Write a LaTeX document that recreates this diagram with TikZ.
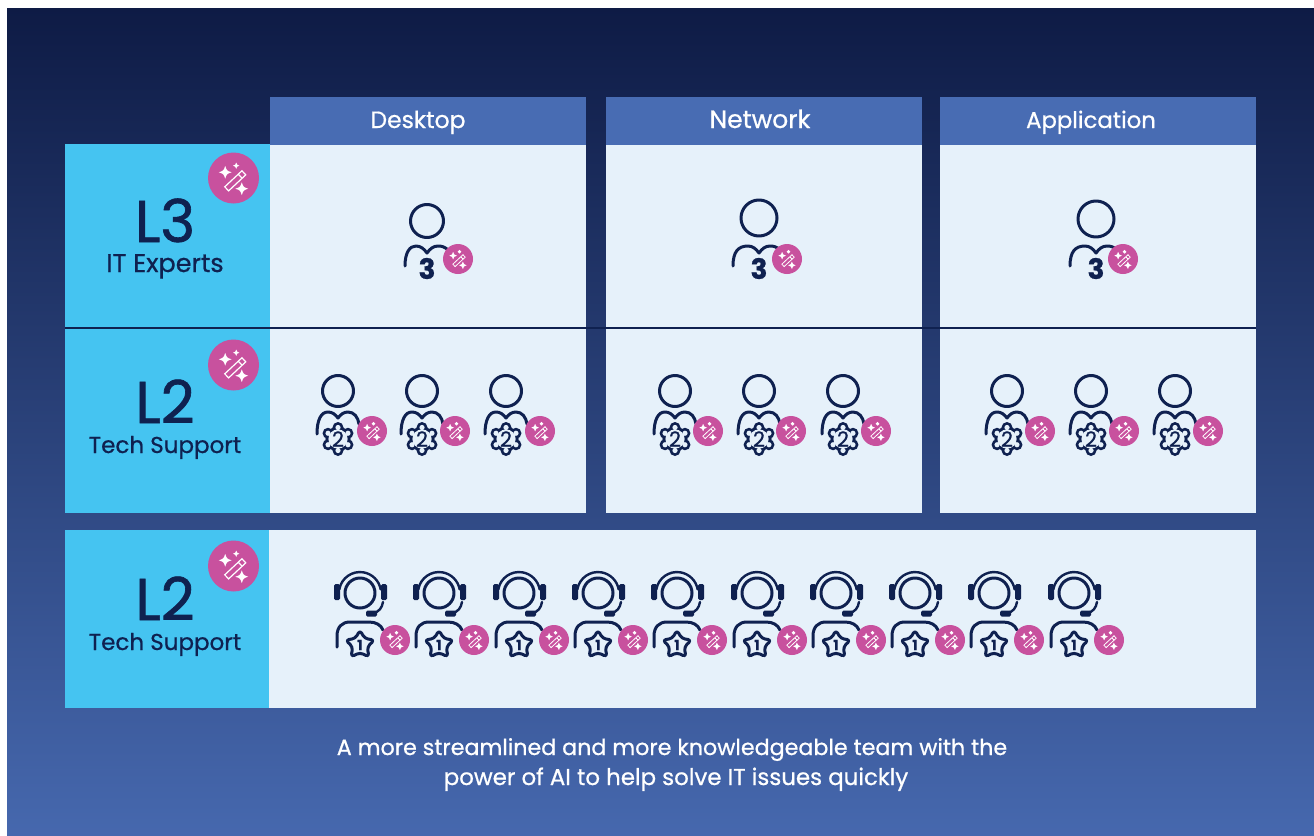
\documentclass[tikz,border=0pt]{standalone}
\usepackage{fontspec}
\setmainfont{Poppins}[FakeBold=0.7]
\newfontfamily\bigfont{Poppins}[FakeBold=1.1]
\definecolor{ink}{HTML}{0F2150}
\definecolor{head}{HTML}{486CB3}
\definecolor{cell}{HTML}{E6F1FA}
\definecolor{sky}{HTML}{45C4F1}
\definecolor{magenta}{HTML}{C8519E}
\definecolor{bgtop}{HTML}{0E1B45}
\definecolor{bgbot}{HTML}{4668AE}
\tikzset{
  header/.style={fill=head,draw=none},
  panel/.style={fill=cell,draw=none},
  side/.style={fill=sky,draw=none},
  icon/.style={draw=ink,line width=3pt,line cap=round,line join=round},
  headtxt/.style={text=white,font=\fontsize{#1}{26}\selectfont,anchor=base,inner sep=0},
  bigl/.style={text=ink,font=\bigfont\fontsize{59}{60}\selectfont,anchor=base,inner sep=0},
  subl/.style={text=ink,font=\fontsize{#1}{26}\selectfont,anchor=base,inner sep=0},
  digit/.style={text=ink,anchor=center,inner sep=0},
  foot/.style={text=white,font=\fontsize{#1}{25}\selectfont,anchor=base,inner sep=0},
}
\newcommand{\sparkle}[3]{\fill[white] (#1-#3,#2) .. controls (#1-0.25*#3,#2-0.25*#3) .. (#1,#2-#3) .. controls (#1+0.25*#3,#2-0.25*#3) .. (#1+#3,#2) .. controls (#1+0.25*#3,#2+0.25*#3) .. (#1,#2+#3) .. controls (#1-0.25*#3,#2+0.25*#3) .. cycle;}
% #1 x, #2 y, #3 radius, #4 wand line width
\newcommand{\magicbadge}[4]{%
  \begin{scope}[shift={(#1,#2)}]
    \fill[magenta] (0,0) circle (#3);
    \begin{scope}[scale=#3/25.5]
      \draw[white,line width=#4,rotate around={43:(1.8,2.8)}] (-10,0) rectangle (13.5,5.6);
      \draw[white,line width=#4,rotate around={43:(1.8,2.8)}] (8.5,0) -- (8.5,5.6);
      \sparkle{-8.3}{-5.7}{6.4}
      \sparkle{8.3}{10.7}{6.4}
      \sparkle{2.7}{-12.3}{3.2}
    \end{scope}
  \end{scope}}
% expert: head (#1,#2), head radius #3, badge x #4, shoulder half-width #5
\newcommand{\expert}[5]{%
  \draw[icon] (#1,#2) circle (#3);
  \draw[icon] (#1-#5,266) .. controls (#1-#5,252) and (#1-#5+5,246) .. (#1-11,246) .. controls (#1-6,246) and (#1-3,249) .. (#1,253) .. controls (#1+3,249) and (#1+6,246) .. (#1+11,246) .. controls (#1+15,246) and (#1+18,247) .. (#1+21,250);
  \node[digit,font=\fontsize{28}{30}\selectfont\bfseries] at (#1,268.5) {3};
  \magicbadge{#4}{259}{15}{0.8pt}}
% gear outline: six round lobes round a disc, centre (#1,#2)
\newcommand{\gear}[2]{%
  \fill[ink] (#1,#2) circle (12.6);
  \foreach \a in {30,90,...,330} {\fill[ink] (#1,#2) ++(\a:11.5) circle (5.5);}
  \fill[cell] (#1,#2) circle (9.6);
  \foreach \a in {30,90,...,330} {\fill[cell] (#1,#2) ++(\a:11.5) circle (2.6);}}
% tech: head x #1, badge x #2
\newcommand{\tech}[2]{%
  \draw[icon] (#1,391) circle (15.5);
  \draw[icon] (#1-21,434) .. controls (#1-21,420) and (#1-17,412) .. (#1-10,412) .. controls (#1-6,412) and (#1-3,414) .. (#1,418) .. controls (#1+3,414) and (#1+6,412) .. (#1+10,412) .. controls (#1+16,412) and (#1+20,417) .. (#1+21,424);
  \gear{#1}{439}
  \node[digit,font=\fontsize{21}{24}\selectfont] at (#1,439) {2};
  \magicbadge{#2}{431}{15}{0.8pt}}
% agent: headset centre x #1
\newcommand{\agent}[1]{%
  \draw[icon] (#1,593) circle (15);
  \draw[icon,line width=2.4pt] (#1-20.7,589.4) arc[start angle=190,end angle=350,radius=21];
  \fill[ink,rounded corners=1.5pt] (#1-26,584) rectangle (#1-20,600);
  \fill[ink,rounded corners=1.5pt] (#1+21,584) rectangle (#1+27,600);
  \draw[icon,line width=2.4pt] (#1+23,602) .. controls (#1+22,608) and (#1+19,612) .. (#1+13,613);
  \fill[ink,rounded corners=1.5pt] (#1+6,610.5) rectangle (#1+17,616.5);
  \draw[icon] (#1-23,647) -- (#1-23,636) .. controls (#1-23,627) and (#1-18,622) .. (#1-10,622) -- (#1+9,622) .. controls (#1+16,622) and (#1+21,625) .. (#1+23,630);
  \filldraw[icon,fill=cell,rounded corners=3.5pt] (#1,630) -- (#1+4.6,638.5) -- (#1+14.5,640) -- (#1+7.2,647) -- (#1+9,657) -- (#1,652.5) -- (#1-9,657) -- (#1-7.2,647) -- (#1-14.5,640) -- (#1-4.6,638.5) -- cycle;
  \node[digit,font=\fontsize{14}{16}\selectfont\bfseries] at (#1,645) {1};
  \magicbadge{#1+35}{640}{15}{0.8pt}}
\begin{document}
\begin{tikzpicture}[x=1pt,y=-1pt]
\useasboundingbox (0,0) rectangle (1314,835);
\shade[top color=bgtop,bottom color=bgbot,draw=none] (7,8) rectangle (1314,835);
% headers
\fill[header] (270,97) rectangle (586,145);
\fill[header] (606,97) rectangle (922,145);
\fill[header] (940,97) rectangle (1256,145);
\node[headtxt=23.5] (hd) at (418,128) {Desktop};
\node[headtxt=25] (hn) at (760,128) {Network};
\node[headtxt=22.8] (ha) at (1091,128) {Application};
% panels
\fill[panel] (270,145) rectangle (586,513);
\fill[panel] (606,145) rectangle (922,513);
\fill[panel] (940,145) rectangle (1256,513);
\fill[side] (65,144) rectangle (270,513);
\fill[side] (65,530) rectangle (269,708);
\fill[panel] (269,530) rectangle (1256,708);
\draw[ink,line width=2pt] (65,328) -- (1256,328);
% labels
\node[bigl] (l3) at (165,242) {L3};
\node[subl=25.5] (l3s) at (165,272) {IT Experts};
\node[bigl] (l2a) at (165,423) {L2};
\node[subl=23] (l2as) at (165,453) {Tech Support};
\node[bigl] (l2b) at (165,620) {L2};
\node[subl=23] (l2bs) at (165,650) {Tech Support};
\magicbadge{233.5}{178}{25.5}{1.2pt}
\magicbadge{233.5}{365}{25.5}{1.2pt}
\magicbadge{233.5}{566}{25.5}{1.2pt}
% experts
\expert{427}{221}{16.5}{458}{22}
\expert{759}{218}{18}{787}{26}
\expert{1096}{219}{18}{1123}{26}
% tech
\tech{338}{372}\tech{422}{455}\tech{506}{540}
\tech{675}{708}\tech{759}{791}\tech{843}{876}
\tech{1007}{1040}\tech{1091}{1124}\tech{1175}{1208}
% agents
\agent{360}\agent{439}\agent{519}\agent{598}\agent{677}
\agent{757}\agent{836}\agent{915}\agent{994}\agent{1074}
% footer
\node[foot=22.2] (f1) at (672,755) {A more streamlined and more knowledgeable team with the};
\node[foot=22.9] (f2) at (676,785) {power of AI to help solve IT issues quickly};
\end{tikzpicture}
\end{document}
